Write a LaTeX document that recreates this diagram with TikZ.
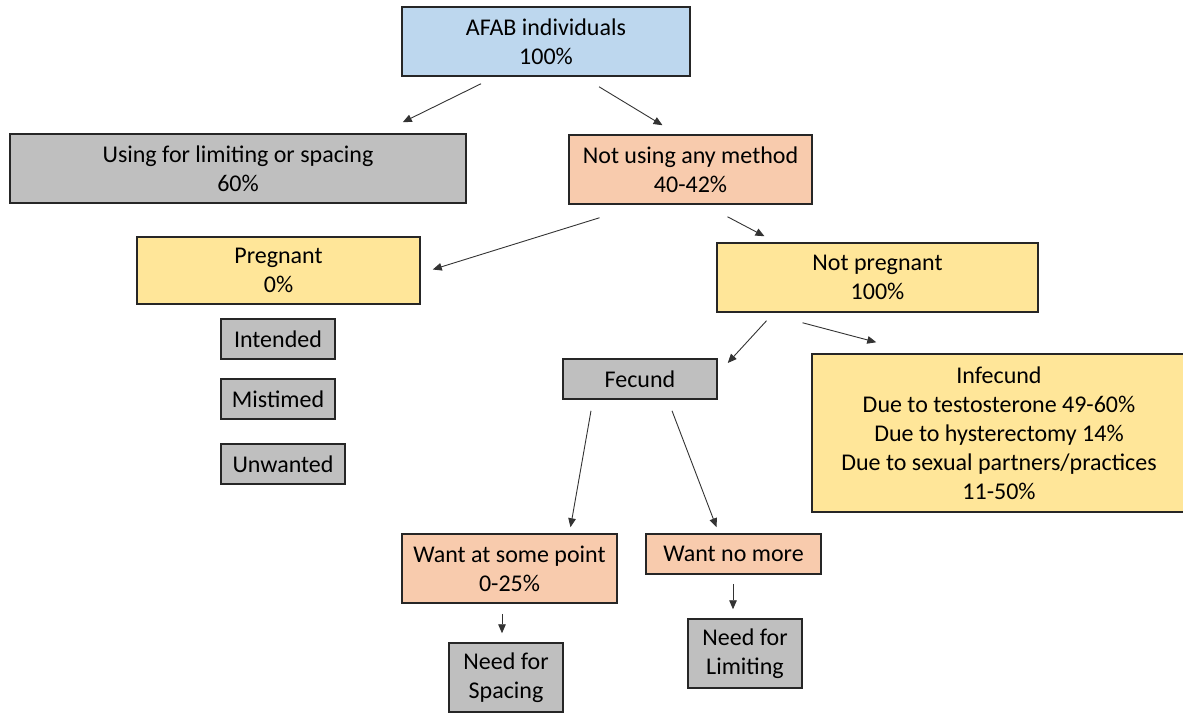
\documentclass[tikz,border=0pt]{standalone}
\usepackage{fontspec}
\setmainfont{Carlito}
\usetikzlibrary{arrows.meta, positioning, calc}

\definecolor{boxblue}{HTML}{BDD7EE}
\definecolor{boxgray}{HTML}{BFBFBF}
\definecolor{boxpeach}{HTML}{F8CBAD}
\definecolor{boxyellow}{HTML}{FFE699}

\tikzset{
  box/.style={draw=black!85, line width=0.75pt, align=center, inner sep=0pt,
    font=\fontsize{12}{14.5}\selectfont},
  arr/.style={-{Triangle[length=4.5pt,width=3.8pt]}, line width=0.45pt, black!80}
}

\begin{document}
\begin{tikzpicture}[x=0.5pt, y=-0.5pt]
	\useasboundingbox (0,0) rectangle (1183,713);
	
	% ---------- top level ----------
	\node[box, fill=boxblue, minimum width=144pt, minimum height=34.5pt] (afab) at (546,41.5) {AFAB individuals\\100\%};
	\node[box, fill=boxgray, minimum width=228pt, minimum height=34.5pt] (using) at (238,168.5) {Using for limiting or spacing\\60\%};
	\node[box, fill=boxpeach, minimum width=121.5pt, minimum height=34.5pt] (notusing) at (690.5,169.5) {Not using any method\\40-42\%};
	
	% ---------- pregnancy ----------
	\node[box, fill=boxyellow, minimum width=141.5pt, minimum height=33.5pt] (preg) at (278.5,270.5) {Pregnant\\0\%};
	\node[box, fill=boxyellow, minimum width=160.5pt, minimum height=34.5pt] (notpreg) at (877.5,277.5) {Not pregnant\\100\%};
	
	% intention of the pregnancy
	\node[box, fill=boxgray, minimum width=57pt, minimum height=20pt] (intended) at (278,339) {Intended};
	\node[box, fill=boxgray, minimum width=57pt, minimum height=20pt] (mistimed) at (278,399) {Mistimed};
	\node[box, fill=boxgray, minimum width=62pt, minimum height=20pt] (unwanted) at (283,464) {Unwanted};
	
	% ---------- fecundity ----------
	\node[box, fill=boxgray, minimum width=77pt, minimum height=20pt] (fecund) at (640,379) {Fecund};
	\node[box, fill=boxyellow, minimum width=187pt, minimum height=79pt] (infecund) at (999,433) {Infecund\\Due to testosterone 49-60\%\\Due to hysterectomy 14\%\\Due to sexual partners/practices\\11-50\%};
	
	% ---------- desire and need ----------
	\node[box, fill=boxpeach, minimum width=107.5pt, minimum height=34.5pt] (wantsome) at (509.5,568.5) {Want at some point\\0-25\%};
	\node[box, fill=boxpeach, minimum width=87.5pt, minimum height=20pt] (wantno) at (733.5,554) {Want no more};
	\node[box, fill=boxgray, minimum width=57pt, minimum height=34.5pt] (spacing) at (506,677.5) {Need for\\Spacing};
	\node[box, fill=boxgray, minimum width=57pt, minimum height=34.5pt] (limiting) at (745,653.5) {Need for\\Limiting};
	
	% ---------- arrows (they stop short of the boxes) ----------
	\draw[arr] ([shift={(-65,7)}]afab.south) -- ([shift={(-64,-11)}]using.north east);
	\draw[arr] ([shift={(53,10)}]afab.south) -- ([shift={(-28,-9)}]notusing.north);
	\draw[arr] ([shift={(-91,13)}]notusing.south) -- ([shift={(12,-1)}]preg.east);
	\draw[arr] ([shift={(37,12)}]notusing.south) -- ([shift={(-113,-6)}]notpreg.north);
	\draw[arr] ([shift={(-111,8)}]notpreg.south) -- ([shift={(10,-16)}]fecund.east);
	\draw[arr] ([shift={(-75,10)}]notpreg.south) -- ([shift={(65,-11)}]infecund.north west);
	\draw[arr] ([shift={(-49,11)}]fecund.south) -- ([shift={(61,-6)}]wantsome.north);
	\draw[arr] ([shift={(32,11)}]fecund.south) -- ([shift={(-17,-6)}]wantno.north);
	\draw[arr] ([shift={(-7.5,10)}]wantsome.south) -- ([shift={(-4,-9)}]spacing.north);
	\draw[arr] ([shift={(-0.5,9)}]wantno.south) -- ([shift={(-12,-9)}]limiting.north);
	
\end{tikzpicture}
\end{document}
